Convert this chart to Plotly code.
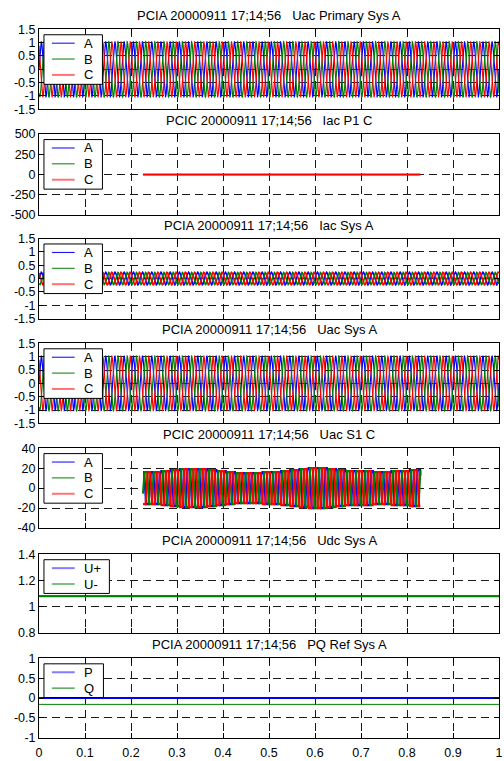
import numpy as np
import plotly.graph_objects as go

# ---------------- data ----------------
x_tick_vals = [0, 0.1, 0.2, 0.3, 0.4, 0.5, 0.6, 0.7, 0.8, 0.9, 1]
x_tick_text = ["0", "0.1", "0.2", "0.3", "0.4", "0.5", "0.6", "0.7", "0.8", "0.9", "1"]

panel_titles = [
    "PCIA 20000911 17;14;56   Uac Primary Sys A",
    "PCIC 20000911 17;14;56   Iac P1 C",
    "PCIA 20000911 17;14;56   Iac Sys A",
    "PCIA 20000911 17;14;56   Uac Sys A",
    "PCIC 20000911 17;14;56   Uac S1 C",
    "PCIA 20000911 17;14;56   Udc Sys A",
    "PCIA 20000911 17;14;56   PQ Ref Sys A",
]
y_ranges = [[-1.5, 1.5], [-500, 500], [-1.5, 1.5], [-1.5, 1.5], [-40, 40], [0.8, 1.4], [-1, 1]]
y_tick_vals = [
    [-1.5, -1, -0.5, 0, 0.5, 1, 1.5],
    [-500, -250, 0, 250, 500],
    [-1.5, -1, -0.5, 0, 0.5, 1, 1.5],
    [-1.5, -1, -0.5, 0, 0.5, 1, 1.5],
    [-40, -20, 0, 20, 40],
    [0.8, 1.0, 1.2, 1.4],
    [-1, -0.5, 0, 0.5, 1],
]
y_tick_text = [
    ["-1.5", "-1", "-0.5", "0", "0.5", "1", "1.5"],
    ["-500", "-250", "0", "250", "500"],
    ["-1.5", "-1", "-0.5", "0", "0.5", "1", "1.5"],
    ["-1.5", "-1", "-0.5", "0", "0.5", "1", "1.5"],
    ["-40", "-20", "0", "20", "40"],
    ["0.8", "1", "1.2", "1.4"],
    ["-1", "-0.5", "0", "0.5", "1"],
]

phase_names = ["A", "B", "C"]
phase_colors = ["#0000ff", "#008000", "#ff0000"]
phase_shift_deg = [0, -120, 120]
mains_freq_hz = 50
record_span = [0.0, 1.0]

uac_primary_amp = [1.03, 1.04, 1.03]
iac_sys_amp = [0.24, 0.23, 0.24]
uac_sys_amp = [1.02, 1.03, 1.02]

iac_p1_span = [0.226, 0.829]
iac_p1_level = [0.0, 0.0, 0.0]

uac_s1_span = [0.226, 0.829]
uac_s1_cycle_amp = [16, 16, 17, 18, 19, 19, 19, 18, 17, 16,
                    15, 15, 15, 16, 16, 17, 18, 19, 20, 20,
                    19, 18, 17, 17, 17, 16, 16, 17, 17, 18]
uac_s1_flat_factor = 2.2   # waveform is strongly flattened (near square)

udc_names = ["U+", "U-"]
udc_colors = ["#0000ff", "#008000"]
udc_level = [1.081, 1.078]

pq_names = ["P", "Q"]
pq_colors = ["#0000ff", "#008000"]
pq_level = [0.0, -0.16]

# ---------------- layout geometry (pixels) ----------------
W, H = 504, 761
ML, MR, MT, MB = 39, 1, 29, 17
PW, PH = W - ML - MR, H - MT - MB
panel_top = [29.3, 135, 240.3, 346, 451.7, 558.7, 663.7]
panel_bot = [110, 216.7, 321, 426.7, 532.3, 638, 743.7]
FONT = "Liberation Sans, Arial, sans-serif"
GRID = "#1a1a1a"


def fx(px):
    return (px - ML) / PW


def fy(px):
    return 1 - (px - MT) / PH


fig = go.Figure()

t = np.linspace(record_span[0], record_span[1], 6001)
period = 1.0 / mains_freq_hz


def phase_wave(tt, amp, k):
    return amp * np.sin(2 * np.pi * mains_freq_hz * tt + np.deg2rad(phase_shift_deg[k]))


def add(i, x, y, color, width=1.0):
    ax = "" if i == 0 else str(i + 1)
    fig.add_trace(go.Scatter(x=x, y=y, mode="lines", line=dict(color=color, width=width),
                             xaxis="x" + ax, yaxis="y" + ax, showlegend=False,
                             hoverinfo="skip"))


# panel 1
for k in range(3):
    add(0, t, phase_wave(t, uac_primary_amp[k], k), phase_colors[k], 1.2)
# panel 2
for k in range(3):
    add(1, iac_p1_span, [iac_p1_level[k]] * 2, phase_colors[k], 2 if k == 2 else 1)
# panel 3
for k in range(3):
    add(2, t, phase_wave(t, iac_sys_amp[k], k), phase_colors[k], 1.6)
# panel 4
for k in range(3):
    add(3, t, phase_wave(t, uac_sys_amp[k], k), phase_colors[k], 1.2)
# panel 5
t5 = t[(t >= uac_s1_span[0]) & (t <= uac_s1_span[1])]
cyc = np.clip(((t5 - uac_s1_span[0]) / period).astype(int), 0, len(uac_s1_cycle_amp) - 1)
amp5 = np.array(uac_s1_cycle_amp, dtype=float)[cyc]
for k in range(3):
    y5 = amp5 * np.clip(uac_s1_flat_factor * phase_wave(t5, 1.0, k), -1, 1)
    add(4, t5, y5, phase_colors[k], 2.2)
# panel 6
for k in range(2):
    add(5, record_span, [udc_level[k]] * 2, udc_colors[k], 1.5)
# panel 7
for k in range(2):
    add(6, record_span, [pq_level[k]] * 2, pq_colors[k], 2 if k == 0 else 1)

layout = dict(
    width=W, height=H,
    margin=dict(l=ML, r=MR, t=MT, b=MB, pad=0),
    paper_bgcolor="white", plot_bgcolor="white",
    font=dict(family=FONT, size=12.5, color="black"),
    showlegend=False,
)
shapes = []
annotations = []

legend_sets = [
    (phase_names, phase_colors, 103),
    (phase_names, phase_colors, 103),
    (phase_names, phase_colors, 103),
    (phase_names, phase_colors, 103),
    (phase_names, phase_colors, 103),
    (udc_names, udc_colors, 110),
    (pq_names, pq_colors, 104),
]
legend_soft = {"#ff0000": "rgba(255,0,0,0.55)", "#0000ff": "rgba(0,0,255,0.5)"}

for i in range(7):
    ax = "" if i == 0 else str(i + 1)
    layout["xaxis" + ax] = dict(
        domain=[0, 1], anchor="y" + ax, range=[0, 1],
        tickmode="array", tickvals=x_tick_vals, ticktext=x_tick_text,
        showticklabels=(i == 6), ticks="inside", ticklen=5, tickcolor="black",
        showline=True, linecolor="black", linewidth=1, mirror="ticks",
        showgrid=True, gridcolor=GRID, gridwidth=1, griddash="8px,5px",
        zeroline=False, tickfont=dict(size=12.5, color="black"),
        ticklabeloverflow="allow", ticklabelstandoff=3,
    )
    layout["yaxis" + ax] = dict(
        domain=[fy(panel_bot[i]), fy(panel_top[i])], anchor="x" + ax, range=y_ranges[i],
        tickmode="array", tickvals=y_tick_vals[i], ticktext=y_tick_text[i],
        ticks="inside", ticklen=5, tickcolor="black",
        showline=True, linecolor="black", linewidth=1, mirror="ticks",
        showgrid=True, gridcolor=GRID, gridwidth=1, griddash="8px,5px",
        zeroline=False, tickfont=dict(size=12.5, color="black"),
    )
    annotations.append(dict(
        text=panel_titles[i], x=0.5, y=fy(panel_top[i] - 13.5), xref="paper", yref="paper",
        xanchor="center", yanchor="middle", showarrow=False,
        font=dict(size=13, color="black", family=FONT)))
    names, colors, right = legend_sets[i]
    T = panel_top[i]
    top = T + 5.5
    h = 8.5 + 16 * (len(names) - 1) + 9.5
    shapes.append(dict(type="rect", xref="paper", yref="paper",
                       x0=fx(44), x1=fx(right), y0=fy(top + h), y1=fy(top),
                       fillcolor="white", line=dict(color="black", width=1), layer="above"))
    for k, (nm, col) in enumerate(zip(names, colors)):
        yc = top + 8.5 + 16 * k
        soft = (i < 5 and k == 2) or (i >= 5 and k == 0)
        lcol = legend_soft[col] if soft else col
        shapes.append(dict(type="line", xref="paper", yref="paper",
                           x0=fx(52), x1=fx(75), y0=fy(yc), y1=fy(yc),
                           line=dict(color=lcol, width=2 if soft else 1), layer="above"))
        annotations.append(dict(
            text=nm, x=fx(82), y=fy(yc), xref="paper", yref="paper",
            xanchor="left", yanchor="middle", showarrow=False,
            font=dict(size=13, color="black", family=FONT)))

layout["shapes"] = shapes
layout["annotations"] = annotations
fig.update_layout(**layout)
fig.write_html("out.html")
